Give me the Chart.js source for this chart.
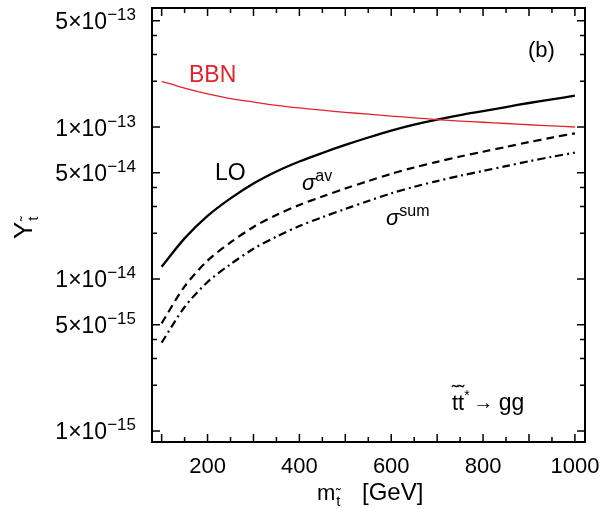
<!DOCTYPE html>
<html>
<head>
<meta charset="utf-8">
<script src="https://cdn.jsdelivr.net/npm/chart.js@4"></script>
<style>
  body { margin: 0; background: #fff; }
  canvas { display: block; }
</style>
</head>
<body>
<canvas id="grafico" width="602" height="509"></canvas>
<script>
// stop mass in GeV
const massas = [100, 150, 200, 250, 300, 350, 400, 450, 500, 550, 600, 650, 700, 750, 800, 850, 900, 950, 1000];

// yields
const bbn = [2.00e-13, 1.80e-13, 1.65e-13, 1.54e-13, 1.46e-13, 1.39e-13, 1.335e-13, 1.29e-13, 1.25e-13, 1.215e-13,
             1.18e-13, 1.15e-13, 1.12e-13, 1.095e-13, 1.075e-13, 1.055e-13, 1.035e-13, 1.018e-13, 1.00e-13];
const lo = [1.205e-14, 1.85e-14, 2.60e-14, 3.39e-14, 4.25e-14, 5.10e-14, 5.93e-14, 6.75e-14, 7.62e-14, 8.53e-14,
            9.48e-14, 1.038e-13, 1.120e-13, 1.199e-13, 1.274e-13, 1.354e-13, 1.439e-13, 1.521e-13, 1.607e-13];
const sigmaAv = [5.11e-15, 8.93e-15, 1.32e-14, 1.74e-14, 2.20e-14, 2.64e-14, 3.07e-14, 3.49e-14, 3.94e-14, 4.41e-14,
                 4.92e-14, 5.42e-14, 5.90e-14, 6.40e-14, 6.88e-14, 7.40e-14, 7.96e-14, 8.52e-14, 9.09e-14];
const sigmaSum = [3.81e-15, 6.54e-15, 9.56e-15, 1.25e-14, 1.58e-14, 1.90e-14, 2.23e-14, 2.55e-14, 2.89e-14, 3.26e-14,
                  3.66e-14, 4.04e-14, 4.41e-14, 4.78e-14, 5.14e-14, 5.53e-14, 5.95e-14, 6.37e-14, 6.78e-14];

// ticks
const xMajor = [100, 200, 300, 400, 500, 600, 700, 800, 900, 1000];
const xMinor = [150, 250, 350, 450, 550, 650, 750, 850, 950];
const xLabels = [200, 400, 600, 800, 1000];
const yMajor = [5e-13, 1e-13, 5e-14, 1e-14, 5e-15, 1e-15];
const yMinor = [4e-13, 3e-13, 2e-13, 4e-14, 3e-14, 2e-14, 4e-15, 3e-15, 2e-15];
const yLabels = [["5", "13"], ["1", "13"], ["5", "14"], ["1", "14"], ["5", "15"], ["1", "15"]];

const FONTE = '"Liberation Sans", Arial, Helvetica, sans-serif';
const VERMELHO = "#e3232c";

function pontos(ys) {
  return massas.map((m, i) => ({ x: m, y: ys[i] }));
}

// draws pieces of text one after another: [texto, tamanho, deslocY, italico]
function textoRico(ctx, partes, x, y) {
  let cx = x;
  partes.forEach(p => {
    ctx.font = (p[3] ? "italic " : "") + p[1] + "px " + FONTE;
    ctx.fillText(p[0], cx, y + (p[2] || 0));
    cx += ctx.measureText(p[0]).width;
  });
  return cx;
}

function larguraRica(ctx, partes) {
  let w = 0;
  partes.forEach(p => {
    ctx.font = (p[3] ? "italic " : "") + p[1] + "px " + FONTE;
    w += ctx.measureText(p[0]).width;
  });
  return w;
}

// letter t with a tilde on top
function tTil(ctx, x, y, tam) {
  ctx.font = tam + "px " + FONTE;
  const w = ctx.measureText("t").width;
  ctx.fillText("t", x, y);
  ctx.font = Math.round(tam * 0.9) + "px " + FONTE;
  const wt = ctx.measureText("\u02DC").width;
  ctx.fillText("\u02DC", x + w / 2 - wt / 2, y - tam * 0.5);
  return x + w;
}

const moldura = {
  id: "moldura",
  afterDatasetsDraw(chart) {
    const ctx = chart.ctx;
    const a = chart.chartArea;
    const sx = chart.scales.x, sy = chart.scales.y;
    ctx.save();
    ctx.strokeStyle = "#000";
    ctx.fillStyle = "#000";

    // ticks, pointing inward on all four sides
    ctx.lineWidth = 1.5;
    ctx.beginPath();
    const tickX = (v, len) => {
      const px = sx.getPixelForValue(v);
      ctx.moveTo(px, a.bottom); ctx.lineTo(px, a.bottom - len);
      ctx.moveTo(px, a.top); ctx.lineTo(px, a.top + len);
    };
    const tickY = (v, len) => {
      const py = sy.getPixelForValue(v);
      ctx.moveTo(a.left, py); ctx.lineTo(a.left + len, py);
      ctx.moveTo(a.right, py); ctx.lineTo(a.right - len, py);
    };
    xMajor.forEach(v => tickX(v, 8));
    xMinor.forEach(v => tickX(v, 5));
    yMajor.forEach(v => tickY(v, 8));
    yMinor.forEach(v => tickY(v, 5));
    ctx.stroke();

    ctx.lineWidth = 2;
    ctx.strokeRect(a.left, a.top, a.right - a.left, a.bottom - a.top);

    // x tick labels
    ctx.textBaseline = "alphabetic";
    ctx.textAlign = "center";
    ctx.font = "22px " + FONTE;
    xLabels.forEach(v => ctx.fillText(String(v), sx.getPixelForValue(v), 473));

    // y tick labels, right aligned
    ctx.textAlign = "left";
    yMajor.forEach((v, i) => {
      const py = sy.getPixelForValue(v);
      const partes = [[yLabels[i][0] + "\u00D710", 23, 0], ["\u2212" + yLabels[i][1], 17, -9]];
      const w = larguraRica(ctx, partes);
      textoRico(ctx, partes, 136 - w, py + 8.5);
    });

    // x axis title
    let cx = textoRico(ctx, [["m", 22, 0]], 317, 500);
    tTil(ctx, cx + 1, 506, 15);
    textoRico(ctx, [["[GeV]", 24, 0]], 362, 500);

    // y axis title, rotated
    ctx.save();
    ctx.translate(32, 239);
    ctx.rotate(-Math.PI / 2);
    ctx.font = "26px " + FONTE;
    ctx.fillText("Y", 0, 0);
    const wy = ctx.measureText("Y").width;
    tTil(ctx, wy + 1, 6, 15);
    ctx.restore();

    // annotations
    ctx.fillStyle = VERMELHO;
    textoRico(ctx, [["BBN", 23, 0]], 189, 82);
    ctx.fillStyle = "#000";
    textoRico(ctx, [["(b)", 22, 0]], 528, 57);
    textoRico(ctx, [["LO", 23, 0]], 215, 180);
    textoRico(ctx, [["\u03C3", 22, 0, true], ["av", 16, -9]], 302, 190);
    textoRico(ctx, [["\u03C3", 22, 0, true], ["sum", 16, -9]], 386, 225);

    let gx = tTil(ctx, 452, 410, 22);
    gx = tTil(ctx, gx, 410, 22);
    gx = textoRico(ctx, [["*", 14, -10]], gx, 410);
    textoRico(ctx, [[" \u2192 ", 20, -1], ["gg", 23, 0]], gx - 2, 410);

    ctx.restore();
  }
};

new Chart(document.getElementById("grafico"), {
  type: "line",
  data: {
    datasets: [
      { data: pontos(bbn), borderColor: VERMELHO, borderWidth: 1.3 },
      { data: pontos(lo), borderColor: "#000", borderWidth: 2.3 },
      { data: pontos(sigmaAv), borderColor: "#000", borderWidth: 2.2, borderDash: [8, 5] },
      { data: pontos(sigmaSum), borderColor: "#000", borderWidth: 2.2, borderDash: [8, 4, 2, 4] }
    ]
  },
  options: {
    responsive: false,
    animation: false,
    layout: { padding: { left: 152, right: 17, top: 8, bottom: 67 } },
    elements: {
      point: { radius: 0 },
      line: { tension: 0.3, fill: false }
    },
    scales: {
      x: { type: "linear", min: 79, max: 1022, display: false },
      y: { type: "logarithmic", min: 8.46e-16, max: 6.07e-13, display: false }
    },
    plugins: {
      legend: { display: false },
      tooltip: { enabled: false }
    }
  },
  plugins: [moldura]
});
</script>
</body>
</html>
